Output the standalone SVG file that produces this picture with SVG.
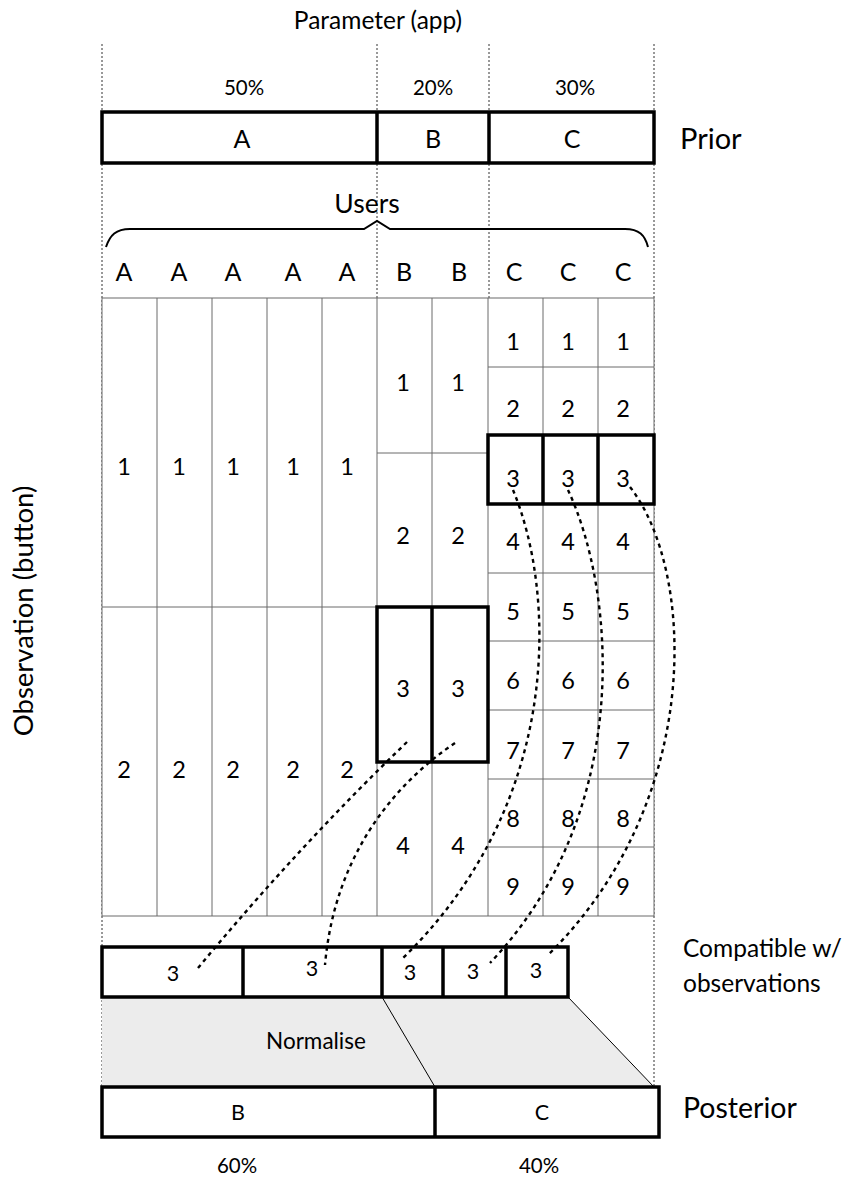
<svg xmlns="http://www.w3.org/2000/svg" width="844" height="1177" viewBox="0 0 844 1177">
  <style>
    text { font-family: "Lato", "Open Sans", "Liberation Sans", sans-serif; fill: #000; text-anchor: middle; dominant-baseline: central; }
    .title { font-size: 24.5px; }
    .users { font-size: 26.5px; }
    .axis { font-size: 27.5px; }
    .pct { font-size: 20.5px; }
    .big { font-size: 25px; }
    .cell { font-size: 23.5px; }
    .prior { font-size: 29px; text-anchor: start; }
    .side { font-size: 28.5px; text-anchor: start; }
    .note { font-size: 24.5px; text-anchor: start; }
    .mid { font-size: 21.5px; }
    .norm { font-size: 22.5px; }
    .guide { stroke: #333; stroke-width: 1; stroke-dasharray: 2 2; fill: none; }
    .grid { stroke: #6a6a6a; stroke-width: 1; fill: #fff; }
    .gline { stroke: #6a6a6a; stroke-width: 1; }
    .bold { stroke: #000; stroke-width: 3.5; fill: #fff; }
    .boldline { stroke: #000; stroke-width: 3.5; }
    .link { stroke: #000; stroke-width: 2.4; stroke-dasharray: 4 4; fill: none; }
  </style>
  <rect width="844" height="1177" fill="#fff"/>

  <!-- guide lines -->
  <g id="guides">
    <line class="guide" x1="102" y1="44" x2="102" y2="1087"/>
    <line class="guide" x1="377" y1="44" x2="377" y2="298"/>
    <line class="guide" x1="489" y1="44" x2="489" y2="298"/>
    <line class="guide" x1="654" y1="44" x2="654" y2="1087"/>
  </g>

  <text class="title" x="378" y="19">Parameter (app)</text>

  <!-- prior -->
  <g id="prior">
    <text class="pct" x="244" y="87">50%</text>
    <text class="pct" x="433" y="87">20%</text>
    <text class="pct" x="575" y="87">30%</text>
    <rect class="bold" x="102" y="112" width="552" height="51"/>
    <line class="boldline" x1="377" y1="112" x2="377" y2="163"/>
    <line class="boldline" x1="489" y1="112" x2="489" y2="163"/>
    <text class="big" x="242" y="138">A</text>
    <text class="big" x="433" y="138">B</text>
    <text class="big" x="572" y="138">C</text>
    <text class="prior" x="680" y="137">Prior</text>
  </g>

  <!-- users -->
  <g id="users">
    <text class="users" x="367" y="203">Users</text>
    <path d="M106,247 C110,235 116,229 130,229 L364,229 L377,221 L390,229 L625,229 C639,229 645,235 648,247" fill="none" stroke="#000" stroke-width="2"/>
    <text class="big" x="124" y="271">A</text>
    <text class="big" x="179" y="271">A</text>
    <text class="big" x="233" y="271">A</text>
    <text class="big" x="293" y="271">A</text>
    <text class="big" x="347" y="271">A</text>
    <text class="big" x="404" y="271">B</text>
    <text class="big" x="459" y="271">B</text>
    <text class="big" x="514" y="271">C</text>
    <text class="big" x="568" y="271">C</text>
    <text class="big" x="623" y="271">C</text>
  </g>

  <!-- observation grid -->
  <g id="grid">
    <rect class="grid" x="102" y="298" width="552" height="618"/>
    <line class="gline" x1="157" y1="298" x2="157" y2="916"/>
    <line class="gline" x1="212" y1="298" x2="212" y2="916"/>
    <line class="gline" x1="267" y1="298" x2="267" y2="916"/>
    <line class="gline" x1="322" y1="298" x2="322" y2="916"/>
    <line class="gline" x1="377" y1="298" x2="377" y2="916"/>
    <line class="gline" x1="432" y1="298" x2="432" y2="916"/>
    <line class="gline" x1="488" y1="298" x2="488" y2="916"/>
    <line class="gline" x1="543" y1="298" x2="543" y2="916"/>
    <line class="gline" x1="598" y1="298" x2="598" y2="916"/>
    <!-- A rows -->
    <line class="gline" x1="102" y1="607" x2="377" y2="607"/>
    <!-- B rows -->
    <line class="gline" x1="377" y1="453" x2="488" y2="453"/>
    <line class="gline" x1="377" y1="607" x2="488" y2="607"/>
    <line class="gline" x1="377" y1="762" x2="488" y2="762"/>
    <!-- C rows -->
    <line class="gline" x1="488" y1="367" x2="654" y2="367"/>
    <line class="gline" x1="488" y1="435" x2="654" y2="435"/>
    <line class="gline" x1="488" y1="504" x2="654" y2="504"/>
    <line class="gline" x1="488" y1="573" x2="654" y2="573"/>
    <line class="gline" x1="488" y1="641" x2="654" y2="641"/>
    <line class="gline" x1="488" y1="710" x2="654" y2="710"/>
    <line class="gline" x1="488" y1="779" x2="654" y2="779"/>
    <line class="gline" x1="488" y1="847" x2="654" y2="847"/>

    <!-- highlighted cells -->
    <rect class="bold" x="377" y="607" width="111" height="155" fill="none"/>
    <line class="boldline" x1="432" y1="607" x2="432" y2="762"/>
    <rect class="bold" x="488" y="435" width="166" height="69" fill="none"/>
    <line class="boldline" x1="543" y1="435" x2="543" y2="504"/>
    <line class="boldline" x1="598" y1="435" x2="598" y2="504"/>

    <!-- A labels -->
    <text class="cell" x="124" y="466">1</text>
    <text class="cell" x="179" y="466">1</text>
    <text class="cell" x="233" y="466">1</text>
    <text class="cell" x="293" y="466">1</text>
    <text class="cell" x="347" y="466">1</text>
    <text class="cell" x="124" y="769">2</text>
    <text class="cell" x="179" y="769">2</text>
    <text class="cell" x="233" y="769">2</text>
    <text class="cell" x="293" y="769">2</text>
    <text class="cell" x="347" y="769">2</text>
    <!-- B labels -->
    <text class="cell" x="403" y="382">1</text>
    <text class="cell" x="458" y="382">1</text>
    <text class="cell" x="403" y="535">2</text>
    <text class="cell" x="458" y="535">2</text>
    <text class="cell" x="403" y="688">3</text>
    <text class="cell" x="458" y="688">3</text>
    <text class="cell" x="403" y="845">4</text>
    <text class="cell" x="458" y="845">4</text>
    <!-- C labels -->
    <g>
      <text class="cell" x="513" y="341">1</text><text class="cell" x="568" y="341">1</text><text class="cell" x="623" y="341">1</text>
      <text class="cell" x="513" y="408">2</text><text class="cell" x="568" y="408">2</text><text class="cell" x="623" y="408">2</text>
      <text class="cell" x="513" y="478">3</text><text class="cell" x="568" y="478">3</text><text class="cell" x="623" y="478">3</text>
      <text class="cell" x="513" y="541">4</text><text class="cell" x="568" y="541">4</text><text class="cell" x="623" y="541">4</text>
      <text class="cell" x="513" y="611">5</text><text class="cell" x="568" y="611">5</text><text class="cell" x="623" y="611">5</text>
      <text class="cell" x="513" y="680">6</text><text class="cell" x="568" y="680">6</text><text class="cell" x="623" y="680">6</text>
      <text class="cell" x="513" y="750">7</text><text class="cell" x="568" y="750">7</text><text class="cell" x="623" y="750">7</text>
      <text class="cell" x="513" y="818">8</text><text class="cell" x="568" y="818">8</text><text class="cell" x="623" y="818">8</text>
      <text class="cell" x="513" y="886">9</text><text class="cell" x="568" y="886">9</text><text class="cell" x="623" y="886">9</text>
    </g>
  </g>

  <text class="axis" transform="translate(22,611) rotate(-90)">Observation (button)</text>

  <!-- normalise band -->
  <g id="normalise">
    <polygon points="102,997 568,997 654,1087 102,1087" fill="#ececec"/>
    <line x1="382" y1="997" x2="435" y2="1087" stroke="#000" stroke-width="1"/>
    <line x1="568" y1="997" x2="654" y2="1087" stroke="#000" stroke-width="1"/>
    <text class="norm" x="316" y="1040">Normalise</text>
  </g>

  <!-- compatible observations -->
  <g id="compatible">
    <rect class="bold" x="102" y="947" width="466" height="50"/>
    <line class="boldline" x1="243" y1="947" x2="243" y2="997"/>
    <line class="boldline" x1="382" y1="947" x2="382" y2="997"/>
    <line class="boldline" x1="443" y1="947" x2="443" y2="997"/>
    <line class="boldline" x1="506" y1="947" x2="506" y2="997"/>
    <text class="mid" x="173" y="973">3</text>
    <text class="mid" x="312" y="968">3</text>
    <text class="mid" x="410" y="972">3</text>
    <text class="mid" x="473" y="971">3</text>
    <text class="mid" x="536" y="970">3</text>
    <text class="note" x="683" y="947">Compatible w/</text>
    <text class="note" x="683" y="982">observations</text>
  </g>

  <!-- posterior -->
  <g id="posterior">
    <rect class="bold" x="102" y="1087" width="557" height="50"/>
    <line class="boldline" x1="435" y1="1087" x2="435" y2="1137"/>
    <text class="mid" x="238" y="1112">B</text>
    <text class="mid" x="542" y="1112">C</text>
    <text class="side" x="683" y="1107">Posterior</text>
    <text class="pct" x="237" y="1165">60%</text>
    <text class="pct" x="539" y="1165">40%</text>
  </g>

  <!-- links from observed cells to compatible row -->
  <g id="connectors">
    <path class="link" d="M407,742 Q300,845 198,968"/>
    <path class="link" d="M455,743 C400,780 335,850 325,965"/>
    <path class="link" d="M513,490 C555,590 565,800 403,958"/>
    <path class="link" d="M568,490 C615,590 635,810 490,963"/>
    <path class="link" d="M630,487 C695,570 705,800 548,955"/>
  </g>
</svg>
